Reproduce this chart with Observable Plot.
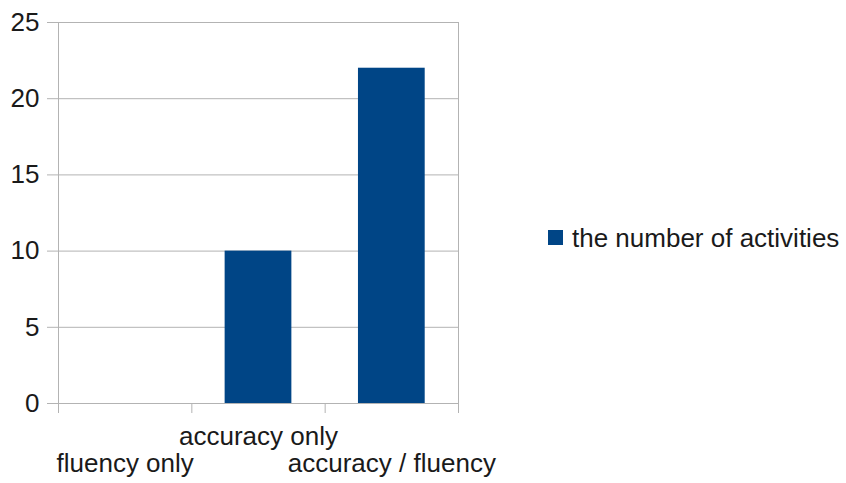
<!DOCTYPE html>
<html>
<head>
<meta charset="utf-8">
<script src="https://cdn.jsdelivr.net/npm/d3@7"></script>
<script src="https://cdn.jsdelivr.net/npm/@observablehq/plot@0.6"></script>
<style>
  html, body { margin: 0; padding: 0; background: #fff; }
  #wrap { position: relative; width: 846px; height: 483px; font-family: "Liberation Sans", Arial, sans-serif; color: #1a1a1a; }
  #legend-swatch { position: absolute; left: 548px; top: 230px; width: 15px; height: 15px; }
  #legend-label { position: absolute; left: 572px; top: 225px; font-size: 26px; line-height: 26px; white-space: nowrap; }
</style>
</head>
<body>
<div id="wrap"></div>
<script>
const categories = ["fluency only", "accuracy only", "accuracy / fluency"];
const values = [0, 10, 22];
const seriesName = "the number of activities";
const yTicks = [0, 5, 10, 15, 20, 25];
const barColor = "#004586";

const data = categories.map((c, i) => ({c, i, v: values[i]}));
const boundaries = d3.range(categories.length + 1);

const chart = Plot.plot({
  width: 846,
  height: 483,
  marginLeft: 58,
  marginRight: 388,
  marginTop: 22,
  marginBottom: 80,
  style: {fontFamily: '"Liberation Sans", Arial, sans-serif', fontSize: "26px", color: "#1a1a1a", background: "#fff"},
  x: {domain: [0, categories.length], axis: null},
  y: {domain: [0, 25], axis: null},
  marks: [
    Plot.gridY(yTicks, {stroke: "#b3b3b3", strokeOpacity: 1}),
    Plot.frame({stroke: "#b3b3b3"}),
    Plot.axisY(yTicks, {tickSize: 11, tickPadding: 8, stroke: "#b3b3b3", fill: "#1a1a1a", fontSize: 26, label: null}),
    Plot.axisX(boundaries, {tickSize: 10, tickFormat: () => "", stroke: "#b3b3b3", label: null}),
    Plot.rectY(data, {x1: d => d.i, x2: d => d.i + 1, y: "v", insetLeft: 33.3, insetRight: 33.3, fill: barColor}),
    Plot.text(data.filter(d => d.i % 2 === 1), {x: d => d.i + 0.5, y: () => 0, text: "c", dy: 33, fontSize: 26, fill: "#1a1a1a"}),
    Plot.text(data.filter(d => d.i % 2 === 0), {x: d => d.i + 0.5, y: () => 0, text: "c", dy: 60, fontSize: 26, fill: "#1a1a1a"})
  ]
});

const wrap = document.getElementById("wrap");
wrap.appendChild(chart);
const sw = document.createElement("div");
sw.id = "legend-swatch";
sw.style.background = barColor;
const lb = document.createElement("div");
lb.id = "legend-label";
lb.textContent = seriesName;
wrap.appendChild(sw);
wrap.appendChild(lb);
chart.style.position = "absolute";
chart.style.left = "0";
chart.style.top = "0";
</script>
</body>
</html>
